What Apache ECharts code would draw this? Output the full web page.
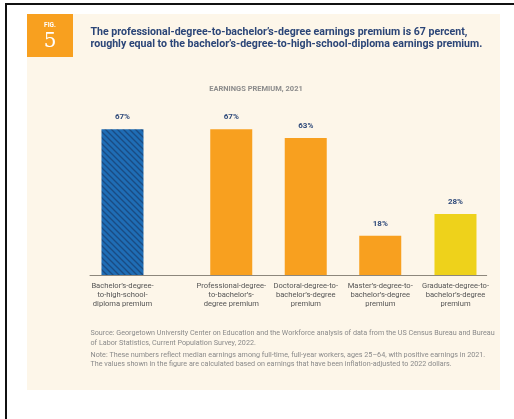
<!DOCTYPE html>
<html>
<head>
<meta charset="utf-8">
<script src="https://cdn.jsdelivr.net/npm/echarts@6/dist/echarts.min.js"></script>
<style>
html,body{margin:0;padding:0;background:#fff;}
#c{width:514px;height:419px;}
</style>
</head>
<body>
<div id="c"></div>
<script>
// ---- data ----
var categories = [
  "Bachelor\u2019s-degree-\nto-high-school-\ndiploma premium",
  "Professional-degree-\nto-bachelor\u2019s-\ndegree premium",
  "Doctoral-degree-to-\nbachelor\u2019s-degree\npremium",
  "Master\u2019s-degree-to-\nbachelor\u2019s-degree\npremium",
  "Graduate-degree-to-\nbachelor\u2019s-degree\npremium"
];
var categoryPositions = [0, 1.46, 2.46, 3.46, 4.47];
var premiumValues = [67, 67, 63, 18, 28];
var valueLabels = ["67%", "67%", "63%", "18%", "28%"];
var barColors = ["hatch", "#f8a01f", "#f8a01f", "#f8a01f", "#eed21b"];
var titleLines = [
  "The professional-degree-to-bachelor\u2019s-degree earnings premium is 67 percent,",
  "roughly equal to the bachelor\u2019s-degree-to-high-school-diploma earnings premium."
];
var chartSubtitle = "EARNINGS PREMIUM, 2021";
var sourceLines = [
  "Source: Georgetown University Center on Education and the Workforce analysis of data from the US Census Bureau and Bureau",
  "of Labor Statistics, Current Population Survey, 2022."
];
var noteLines = [
  "Note: These numbers reflect median earnings among full-time, full-year workers, ages 25\u201364, with positive earnings in 2021.",
  "The values shown in the figure are calculated based on earnings that have been inflation-adjusted to 2022 dollars."
];

// hatch pattern
var pc = document.createElement('canvas');
pc.width = 6; pc.height = 6;
var g = pc.getContext('2d');
g.fillStyle = '#1f6db5'; g.fillRect(0,0,6,6);
g.strokeStyle = '#1a4b82'; g.lineWidth = 1.3;
g.beginPath();
g.moveTo(-1,-1); g.lineTo(7,7);
g.moveTo(-4,2); g.lineTo(2,8);
g.moveTo(2,-4); g.lineTo(8,2);
g.stroke();

var chart = echarts.init(document.getElementById('c'), null, {renderer:'canvas'});

var barData = premiumValues.map(function(v,i){
  var c = barColors[i] === 'hatch' ? {image: pc, repeat: 'repeat'} : barColors[i];
  return {value:[categoryPositions[i], v], itemStyle:{color:c}, label:{formatter: valueLabels[i]}};
});

var textFont = 'Roboto, "Liberation Sans", sans-serif';
var graphics = [
  {type:'rect', shape:{x:0,y:0,width:514,height:419}, style:{fill:'#ffffff'}, z:-10},
  {type:'rect', shape:{x:5,y:3,width:509,height:2}, style:{fill:'#111'}, z:-9},
  {type:'rect', shape:{x:5,y:3,width:2,height:416}, style:{fill:'#111'}, z:-9},
  {type:'rect', shape:{x:27,y:14,width:473,height:376}, style:{fill:'#fdf6e9'}, z:-8},
  {type:'rect', shape:{x:27,y:14,width:46,height:43}, style:{fill:'#f8a01f'}, z:-7},
  {type:'text', x:50, y:25, style:{text:'FIG.', fill:'#fff', font:'bold 6.5px ' + textFont, align:'center', verticalAlign:'middle'}},
  {type:'text', x:50, y:42, style:{text:'5', fill:'#fff', font:'20px "DejaVu Serif", "Liberation Serif", serif', align:'center', verticalAlign:'middle'}},
  {type:'text', x:256, y:89, style:{text:chartSubtitle, fill:'#8c8c8c', font:'bold 7.5px ' + textFont, align:'center', verticalAlign:'middle'}}
];
titleLines.forEach(function(t,i){
  graphics.push({type:'text', x:90.5, y:32.3 + i*12, style:{text:t, fill:'#2b4577', font:'bold 10.6px ' + textFont, align:'left', verticalAlign:'middle'}});
});
sourceLines.forEach(function(t,i){
  graphics.push({type:'text', x:90.5, y:333.3 + i*9.4, style:{text:t, fill:'#8a8a8a', font:'7.2px ' + textFont, align:'left', verticalAlign:'middle'}});
});
noteLines.forEach(function(t,i){
  graphics.push({type:'text', x:90.5, y:355.3 + i*9.2, style:{text:t, fill:'#8a8a8a', font:'7.2px ' + textFont, align:'left', verticalAlign:'middle'}});
});

function catIndex(v){
  for (var i=0;i<categoryPositions.length;i++){ if (Math.abs(categoryPositions[i]-v)<1e-6) return i; }
  return -1;
}

chart.setOption({
  animation:false,
  backgroundColor:'transparent',
  graphic: graphics,
  grid:{left:90, right:27.3, top:100.9, bottom:144, containLabel:false},
  xAxis:{
    type:'value', min:-0.436, max:4.889,
    splitLine:{show:false},
    axisTick:{show:false},
    axisLine:{show:true, onZero:false, lineStyle:{color:'#8d877c', width:1}},
    axisLabel:{
      show:true, customValues: categoryPositions, margin:7,
      formatter:function(v){ var i=catIndex(v); return i>=0?categories[i]:''; },
      color:'#555555', fontSize:7.6, lineHeight:9, fontFamily:'Roboto, sans-serif', align:'center'
    }
  },
  yAxis:{type:'value', min:0, max:80, show:false, splitLine:{show:false}},
  series:[{
    type:'bar', barWidth:42, data:barData,
    label:{show:true, position:'top', distance:8, color:'#2f4a7a', fontSize:8, fontWeight:'bold', fontFamily:'Roboto, sans-serif'}
  }]
});
</script>
</body>
</html>
